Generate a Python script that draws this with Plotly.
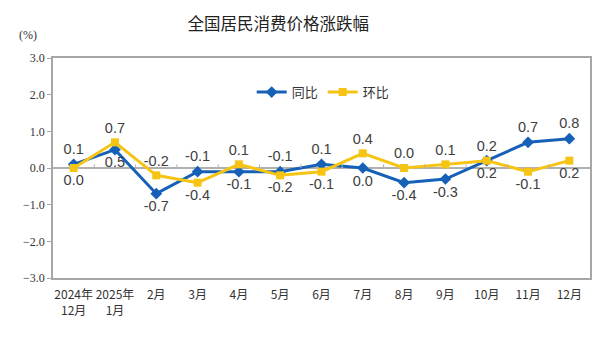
import plotly.graph_objects as go

categories = ["2024年<br>12月", "2025年<br>1月", "2月", "3月", "4月", "5月", "6月",
              "7月", "8月", "9月", "10月", "11月", "12月"]
yoy = [0.1, 0.5, -0.7, -0.1, -0.1, -0.1, 0.1, 0.0, -0.4, -0.3, 0.2, 0.7, 0.8]
mom = [0.0, 0.7, -0.2, -0.4, 0.1, -0.2, -0.1, 0.4, 0.0, 0.1, 0.2, -0.1, 0.2]

blue = "#1660b8"
yellow = "#f5c414"

pos_yoy = []
pos_mom = []
for a, b in zip(yoy, mom):
    if a > b:
        pos_yoy.append("top center"); pos_mom.append("bottom center")
    else:
        pos_yoy.append("bottom center"); pos_mom.append("top center")

fig = go.Figure()
fig.add_trace(go.Scatter(
    x=categories, y=yoy, name="同比", mode="lines+markers+text",
    line=dict(color=blue, width=3), marker=dict(symbol="diamond", size=9, color=blue),
    text=[f"{v:.1f}" for v in yoy], textposition=pos_yoy,
    textfont=dict(family="Liberation Sans, Arial", size=14.5, color="#404040"),
))
fig.add_trace(go.Scatter(
    x=categories, y=mom, name="环比", mode="lines+markers+text",
    line=dict(color=yellow, width=3), marker=dict(symbol="square", size=8, color=yellow),
    text=[f"{v:.1f}" for v in mom], textposition=pos_mom,
    textfont=dict(family="Liberation Sans, Arial", size=14.5, color="#404040"),
))

# small tick marks on the zero line between categories
for i in range(len(categories) - 1):
    fig.add_shape(type="line", xref="x", yref="y", x0=i + 0.5, x1=i + 0.5, y0=0, y1=0.1,
                  line=dict(color="#b0b0b0", width=1))

fig.update_layout(
    width=614, height=353,
    margin=dict(l=53, r=24, t=58, b=75),
    paper_bgcolor="white", plot_bgcolor="white",
    title=dict(text="全国居民消费价格涨跌幅", x=0.453, xanchor="center", y=0.93, yanchor="middle",
               font=dict(family="Noto Sans CJK SC", size=16.5, color="#222222")),
    showlegend=True,
    legend=dict(orientation="h", x=0.37, xanchor="left", y=0.845, yanchor="middle",
                font=dict(family="Noto Sans CJK SC", size=13, color="#333333"),
                bgcolor="rgba(0,0,0,0)", itemwidth=30),
    font=dict(family="Noto Sans CJK SC"),
)
fig.update_xaxes(
    type="category", range=[-0.5, 12.5], showline=True, mirror=True, linecolor="#a6a6a6",
    linewidth=1.5, showgrid=False, ticks="", tickangle=0, ticklabelstandoff=5,
    tickfont=dict(family="Noto Sans CJK SC", size=12, color="#333333"),
)
fig.update_yaxes(
    range=[-3, 3], dtick=1, tickformat=".1f", showline=True, mirror=True, linecolor="#a6a6a6",
    linewidth=1.5, showgrid=False, zeroline=True, zerolinecolor="#b0b0b0", zerolinewidth=1.5,
    ticks="outside", ticklen=4, tickcolor="#a6a6a6",
    tickfont=dict(family="Liberation Serif, Times New Roman", size=12, color="#333333"),
)
fig.add_annotation(text="(%)", xref="paper", yref="paper", x=-0.047, y=1.105, showarrow=False,
                   xanchor="center", yanchor="middle",
                   font=dict(family="Liberation Serif", size=12, color="#333333"))

fig.write_html("out.html")
